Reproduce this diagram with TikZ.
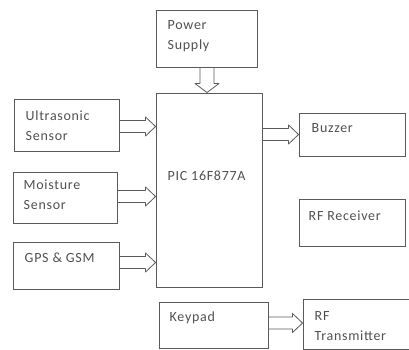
\documentclass[tikz,border=0pt]{standalone}
\usepackage{fontspec}
\newfontfamily\lblfont[LetterSpace=5]{Carlito}
\usetikzlibrary{calc}
\definecolor{lc}{HTML}{5A5A5A}
\definecolor{tc}{HTML}{505050}
\def\blksw{6bp}\def\blkhw{9.5bp}\def\blkhl{10bp}
\tikzset{
  box/.style={draw=lc, line width=0.9bp, inner sep=0pt},
  txt/.style={anchor=north west, inner sep=0pt, align=left, text=tc,
    font=\lblfont\fontsize{14bp}{20bp}\selectfont},
  blkshaft/.code={\def\blksw{#1}},
  blkhead/.code={\def\blkhw{#1}},
  blklen/.code={\def\blkhl{#1}},
  blk/.style={draw=lc, line width=0.8bp, line join=round, to path={
    let \p1=($(\tikztotarget)!\blkhl!(\tikztostart)$) in
    ($(\tikztostart)!\blksw!90:(\tikztotarget)$) -- ($(\p1)!\blksw!90:(\tikztotarget)$)
    -- ($(\p1)!\blkhw!90:(\tikztotarget)$) -- (\tikztotarget)
    -- ($(\p1)!\blkhw!-90:(\tikztotarget)$) -- ($(\p1)!\blksw!-90:(\tikztotarget)$)
    -- ($(\tikztostart)!\blksw!-90:(\tikztotarget)$)}},
}
\begin{document}
\begin{tikzpicture}[x=1bp,y=-1bp]
\useasboundingbox (0,0) rectangle (409,350);
% boxes
\node[box, minimum width=101bp, minimum height=57bp] (ps) at (206.5,38.5) {};
\node[box, minimum width=106bp, minimum height=194bp] (pic) at (209,190) {};
\node[box, minimum width=105bp, minimum height=52bp] (us) at (66.5,125) {};
\node[box, minimum width=104bp, minimum height=51bp] (ms) at (65,197.5) {};
\node[box, minimum width=106bp, minimum height=47bp] (gps) at (66,265.5) {};
\node[box, minimum width=106bp, minimum height=43bp] (bz) at (352,134.5) {};
\node[box, minimum width=106bp, minimum height=47bp] (rfr) at (352,222.5) {};
\node[box, minimum width=109bp, minimum height=46bp] (kp) at (213.5,325) {};
\node[box, minimum width=112bp, minimum height=50bp] (rft) at (359,324) {};
% texts
\node[txt] (tps) at ($(ps.north west)+(12,11)$) {Power\\Supply};
\node[txt] (tpic) at ($(pic.north west)+(12,78)$) {PIC 16F877A};
\node[txt] (tus) at ($(us.north west)+(12,12)$) {Ultrasonic\\Sensor};
\node[txt] (tms) at ($(ms.north west)+(11,8)$) {Moisture\\Sensor};
\node[txt] (tgps) at ($(gps.north west)+(12,11)$) {GPS \& GSM};
\node[txt] (tbz) at ($(bz.north west)+(13,11)$) {Buzzer};
\node[txt] (trfr) at ($(rfr.north west)+(10,12)$) {RF Receiver};
\node[txt] (tkp) at ($(kp.north west)+(11,10)$) {Keypad};
\node[txt] (trft) at ($(rft.north west)+(12,13)$) {RF\\Transmitter};
% arrow end points
\coordinate (a0s) at ($(ps.south)+(0.5,0)$);
\coordinate (a0t) at (a0s |- pic.north);
\coordinate (a1s) at ($(us.east)+(0,1.5)$);
\coordinate (a1t) at (a1s -| pic.west);
\coordinate (a2s) at ($(ms.east)+(0,-1)$);
\coordinate (a2t) at (a2s -| pic.west);
\coordinate (a3s) at ($(gps.east)+(0,-3)$);
\coordinate (a3t) at (a3s -| pic.west);
\coordinate (a4s) at (pic.east |- bz.west);
\coordinate (a5s) at ($(kp.east)+(0,-2)$);
\coordinate (a5t) at (a5s -| rft.west);
% arrows
\draw[blk, blkshaft=7bp, blkhead=12bp, blklen=9bp] (a0s) to (a0t);
\draw[blk] (a1s) to (a1t);
\draw[blk] (a2s) to (a2t);
\draw[blk] (a3s) to (a3t);
\draw[blk] (a4s) to (bz.west);
\draw[blk] (a5s) to (a5t);
\end{tikzpicture}
\end{document}
